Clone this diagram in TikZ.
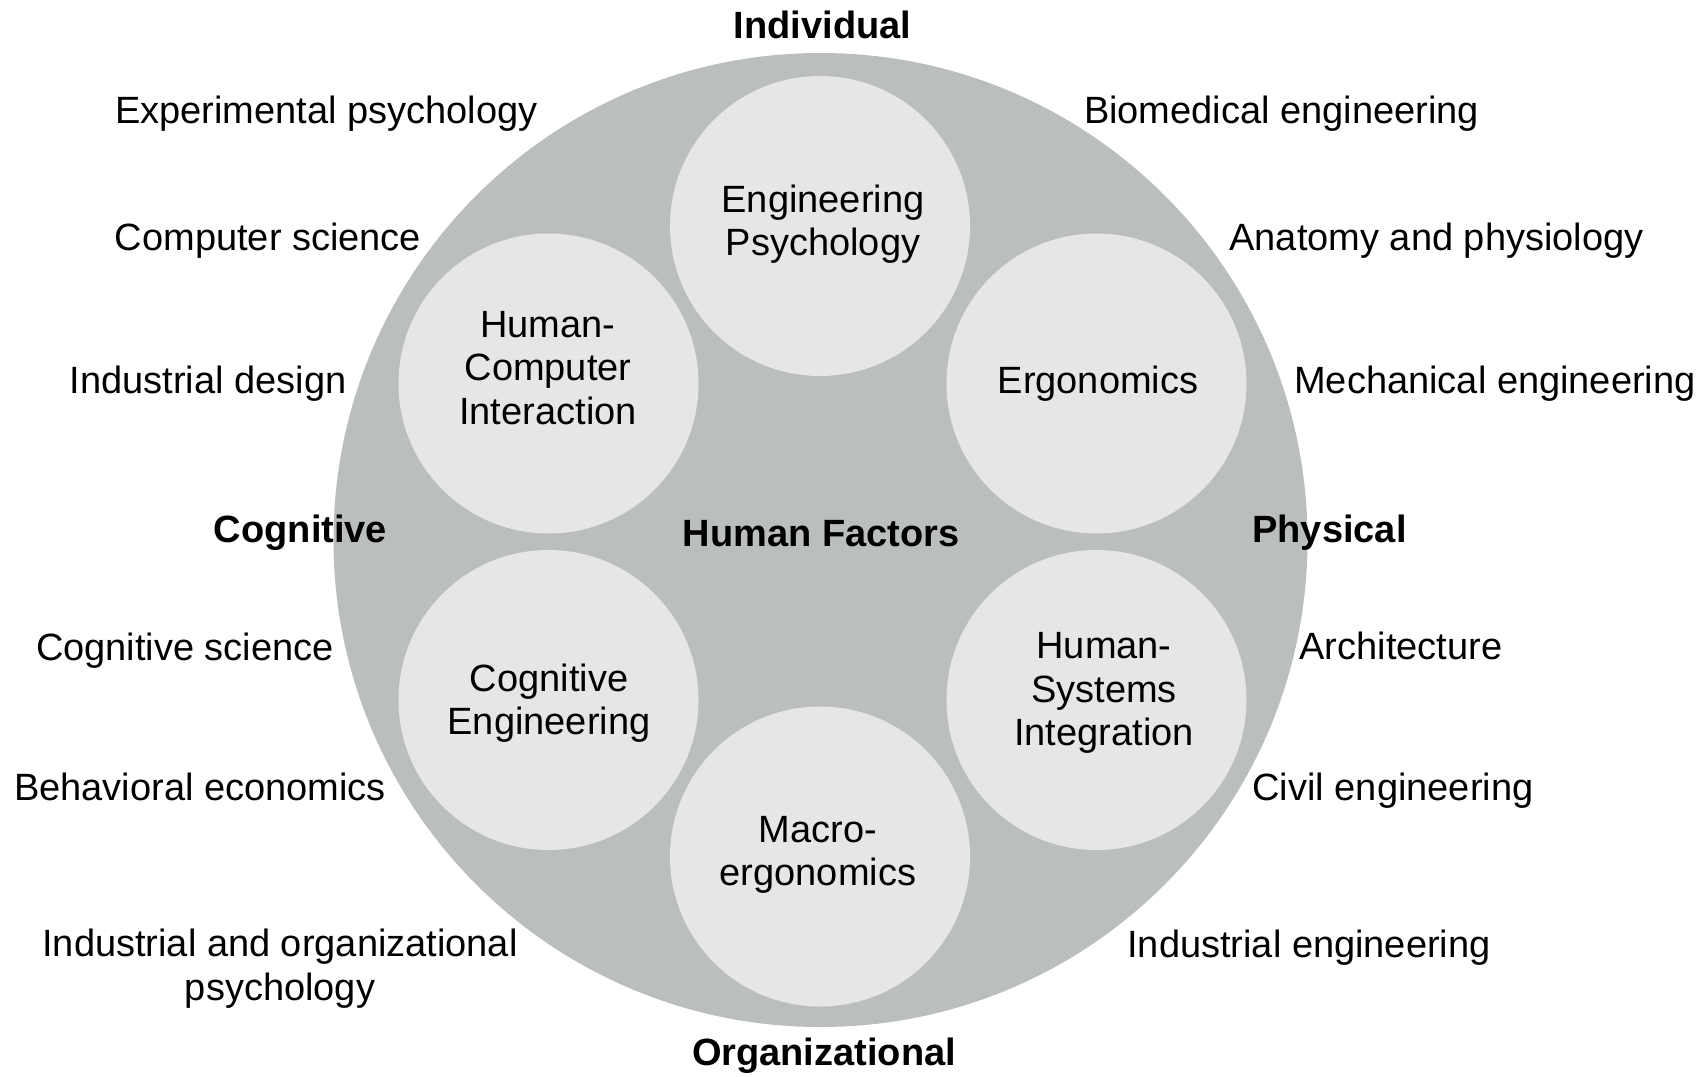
\documentclass[tikz,border=0pt]{standalone}
\usepackage{fontspec}
\setmainfont{Liberation Sans}
\definecolor{hfouter}{RGB}{187,190,191}
\definecolor{hfinner}{RGB}{230,230,230}
\begin{document}
\begin{tikzpicture}[x=0.5pt, y=-0.5pt,
  every node/.style={font=\fontsize{19}{21.75}\selectfont, inner sep=0pt},
  field/.style={circle, fill=hfouter, minimum size=487pt},
  subfield/.style={circle, fill=hfinner, minimum size=150pt},
  axis/.style={font=\fontsize{19}{21.75}\selectfont\bfseries, anchor=base},
  discipline/.style={anchor=base},
  subtext/.style={align=center}]
\useasboundingbox (0,0) rectangle (1706,1076);
\node[field] (hf) at (820.500000, 540.000000) {};
\node[subfield] (engpsy) at (820.000000, 226.000000) {};
\node[subfield] (hci) at (548.500000, 383.500000) {};
\node[subfield] (ergo) at (1096.500000, 383.500000) {};
\node[subfield] (coge) at (548.500000, 700.000000) {};
\node[subfield] (hsi) at (1096.500000, 700.000000) {};
\node[subfield] (macro) at (820.000000, 856.500000) {};
\node[subtext] (engpsytext) at (823.000000, 224.000000) {Engineering\\Psychology};
\node[subtext] (hcitext) at (548.000000, 368.000000) {Human-\\Computer\\Interaction};
\node[subtext, anchor=base] (ergotext) at (1098.000000, 393.000000) {Ergonomics};
\node[subtext] (cogetext) at (549.000000, 703.000000) {Cognitive\\Engineering};
\node[subtext] (hsitext) at (1104.000000, 693.000000) {Human-\\Systems\\Integration};
\node[subtext] (macrotext) at (818.000000, 855.000000) {Macro-\\ergonomics};
\node[axis] (hflabel) at (821.000000, 546.000000) {Human Factors};
\node[axis] (individual) at (822.500000, 38.000000) {Individual};
\node[axis] (cognitive) at (300.500000, 542.000000) {Cognitive};
\node[axis] (physical) at (1329.500000, 542.000000) {Physical};
\node[axis] (organizational) at (824.000000, 1065.000000) {Organizational};
\node[discipline] (exppsy) at (326.500000, 123.000000) {Experimental psychology};
\node[discipline] (compsci) at (268.000000, 250.000000) {Computer science};
\node[discipline] (inddesign) at (208.000000, 393.000000) {Industrial design};
\node[discipline] (cogsci) at (185.000000, 660.000000) {Cognitive science};
\node[discipline] (behecon) at (200.000000, 800.000000) {Behavioral economics};
\node[subtext] (iopsy) at (280.000000, 968.500000) {Industrial and organizational\\psychology};
\node[discipline] (biomed) at (1281.500000, 123.000000) {Biomedical engineering};
\node[discipline] (anatomy) at (1436.500000, 250.000000) {Anatomy and physiology};
\node[discipline] (mecheng) at (1495.000000, 393.000000) {Mechanical engineering};
\node[discipline] (architecture) at (1401.000000, 659.000000) {Architecture};
\node[discipline] (civeng) at (1393.000000, 800.000000) {Civil engineering};
\node[discipline] (indeng) at (1309.000000, 957.000000) {Industrial engineering};

\end{tikzpicture}
\end{document}
